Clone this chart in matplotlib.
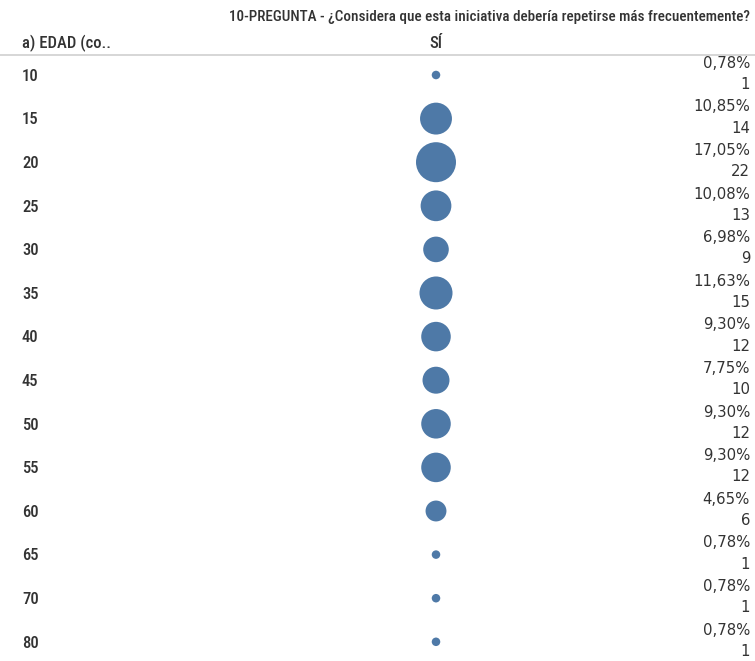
import matplotlib
matplotlib.use("Agg")
import matplotlib.pyplot as plt

# data
ages = ["10", "15", "20", "25", "30", "35", "40", "45", "50", "55", "60", "65", "70", "80"]
counts = [1, 14, 22, 13, 9, 15, 12, 10, 12, 12, 6, 1, 1, 1]
pcts = ["0,78%", "10,85%", "17,05%", "10,08%", "6,98%", "11,63%", "9,30%",
        "7,75%", "9,30%", "9,30%", "4,65%", "0,78%", "0,78%", "0,78%"]

title = "10-PREGUNTA - ¿Considera que esta iniciativa debería repetirse más frecuentemente?"
row_header = "a) EDAD (co.."
col_header = "SÍ"

blue = "#4E79A7"
text_col = "#333333"
head_font = ["Roboto Condensed", "Open Sans Condensed", "Liberation Sans Narrow", "Noto Sans"]
num_font = "DejaVu Sans"

fig = plt.figure(figsize=(7.55, 6.61), dpi=100)
ax = fig.add_axes([0, 0, 1, 1])

# rows: first row centre 75px, step ~43.6px
step, top = 43.6, 75
ax.set_ylim((661 - top) / step, -top / step)
ax.set_xlim(0, 755)
ax.axis("off")

idx = list(range(len(ages)))
sizes = [37.7 * c for c in counts]
ax.scatter([436] * len(idx), idx, s=sizes, color=blue, linewidths=0, zorder=3)

for i, (age, pct, c) in enumerate(zip(ages, pcts, counts)):
    ax.text(22, i + 0.03, age, ha="left", va="center", fontsize=12, fontweight="medium",
            color=text_col, family=head_font)
    ax.text(750, i - 0.27, pct, ha="right", va="center", fontsize=10.7,
            color=text_col, family=num_font)
    ax.text(750, i + 0.22, str(c), ha="right", va="center", fontsize=10.7,
            color=text_col, family=num_font)

# header
ax.text(750, -1.33, title, ha="right", va="center", fontsize=10.9, fontweight="medium",
        color=text_col, family=head_font)
ax.text(22, -0.72, row_header, ha="left", va="center", fontsize=12, fontweight="medium",
        color=text_col, family=head_font)
ax.text(436, -0.72, col_header, ha="center", va="center", fontsize=12, fontweight="medium",
        color=text_col, family=head_font)
ax.axhline(-0.47, color="#cfcfcf", lw=1.2)

fig.savefig("out.png", dpi=100)
